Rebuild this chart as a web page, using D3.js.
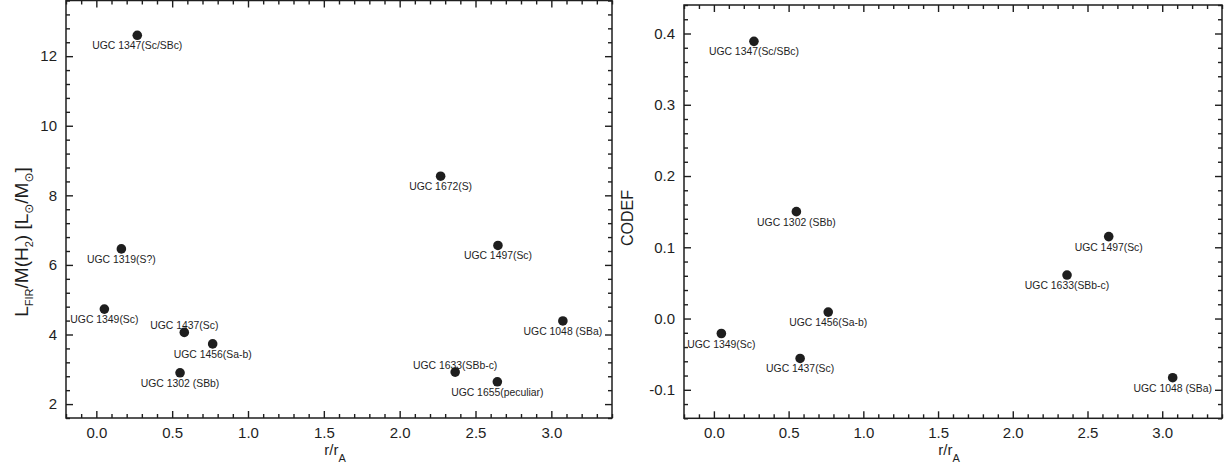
<!DOCTYPE html>
<html>
<head>
<meta charset="utf-8">
<script src="https://cdn.jsdelivr.net/npm/d3@7"></script>
<style>
  body { margin: 0; background: #fff; }
  svg { display: block; font-family: "Liberation Sans", Arial, sans-serif; }
</style>
</head>
<body>
<svg id="chart"></svg>
<script>
// left panel: L_FIR / M(H2) against r/rA
const leftNames = ["UGC 1347(Sc/SBc)", "UGC 1672(S)", "UGC 1319(S?)", "UGC 1349(Sc)", "UGC 1437(Sc)",
    "UGC 1456(Sa-b)", "UGC 1302 (SBb)", "UGC 1497(Sc)", "UGC 1048 (SBa)", "UGC 1633(SBb-c)", "UGC 1655(peculiar)"];
const leftR = [0.27, 2.27, 0.165, 0.053, 0.58, 0.767, 0.552, 2.648, 3.076, 2.366, 2.644];
const leftLfir = [12.6, 8.55, 6.46, 4.73, 4.06, 3.73, 2.9, 6.56, 4.39, 2.92, 2.64];
const leftAbove = ["UGC 1437(Sc)", "UGC 1633(SBb-c)"];

// right panel: CODEF against r/rA
const rightNames = ["UGC 1347(Sc/SBc)", "UGC 1302 (SBb)", "UGC 1349(Sc)", "UGC 1456(Sa-b)", "UGC 1437(Sc)",
    "UGC 1497(Sc)", "UGC 1633(SBb-c)", "UGC 1048 (SBa)"];
const rightR = [0.268, 0.552, 0.05, 0.765, 0.577, 2.642, 2.363, 3.07];
const rightCodef = [0.389, 0.150, -0.021, 0.009, -0.056, 0.115, 0.061, -0.083];

const xTicks = [0, 0.5, 1, 1.5, 2, 2.5, 3];
const leftYTicks = [2, 4, 6, 8, 10, 12];
const rightYTicks = [-0.1, 0, 0.1, 0.2, 0.3, 0.4];

const width = 1225, height = 472;
const ink = "#1e1e1e";

const svg = d3.select("#chart")
    .attr("width", width)
    .attr("height", height);

const range = (a, b, step) => d3.range(Math.round((b - a) / step) + 1).map(i => +(a + i * step).toFixed(4));

function panel(opts) {
    const x = d3.scaleLinear().domain([-0.2, 3.4]).range([opts.left, opts.right]);
    const y = d3.scaleLinear().domain(opts.yDomain).range([opts.bottom, opts.top]);
    const g = svg.append("g");

    const xMinor = range(-0.2, 3.4, 0.1).filter(v => !opts.xTicks.some(t => Math.abs(t - v) < 1e-6));
    const yMinor = range(opts.yDomain[0], opts.yDomain[1], opts.yMinorStep)
        .filter(v => !opts.yTicks.some(t => Math.abs(t - v) < 1e-6));

    const styleAxis = sel => {
        sel.select(".domain").remove();
        sel.selectAll("line").attr("stroke", ink).attr("stroke-width", 1.4);
        sel.selectAll("text").attr("fill", ink).attr("font-size", 15)
            .attr("font-family", "'Liberation Sans', Arial, sans-serif");
    };

    // major + minor ticks on all four sides, pointing inward
    g.append("g").attr("transform", `translate(0,${opts.bottom})`)
        .call(d3.axisBottom(x).tickValues(opts.xTicks).tickSize(-7).tickPadding(9).tickFormat(d3.format(".1f")))
        .call(styleAxis);
    g.append("g").attr("transform", `translate(0,${opts.bottom})`)
        .call(d3.axisBottom(x).tickValues(xMinor).tickSize(-4).tickFormat(""))
        .call(styleAxis);
    g.append("g").attr("transform", `translate(0,${opts.top})`)
        .call(d3.axisTop(x).tickValues(opts.xTicks).tickSize(-7).tickFormat(""))
        .call(styleAxis);
    g.append("g").attr("transform", `translate(0,${opts.top})`)
        .call(d3.axisTop(x).tickValues(xMinor).tickSize(-4).tickFormat(""))
        .call(styleAxis);

    g.append("g").attr("transform", `translate(${opts.left},0)`)
        .call(d3.axisLeft(y).tickValues(opts.yTicks).tickSize(-7).tickPadding(9)
            .tickFormat(d => opts.yFormat(d).replace("\u2212", "-")))
        .call(styleAxis);
    g.append("g").attr("transform", `translate(${opts.left},0)`)
        .call(d3.axisLeft(y).tickValues(yMinor).tickSize(-4).tickFormat(""))
        .call(styleAxis);
    g.append("g").attr("transform", `translate(${opts.right},0)`)
        .call(d3.axisRight(y).tickValues(opts.yTicks).tickSize(-7).tickFormat(""))
        .call(styleAxis);
    g.append("g").attr("transform", `translate(${opts.right},0)`)
        .call(d3.axisRight(y).tickValues(yMinor).tickSize(-4).tickFormat(""))
        .call(styleAxis);

    // frame
    g.append("rect")
        .attr("x", opts.left).attr("y", opts.top)
        .attr("width", opts.right - opts.left).attr("height", opts.bottom - opts.top)
        .attr("fill", "none").attr("stroke", ink).attr("stroke-width", 1.5);

    const pts = opts.names.map((n, i) => ({ name: n, r: opts.r[i], v: opts.v[i] }));

    g.append("g").selectAll("circle")
        .data(pts)
        .enter()
        .append("circle")
        .attr("cx", d => x(d.r))
        .attr("cy", d => y(d.v))
        .attr("r", 4.8)
        .attr("fill", ink);

    g.append("g").selectAll("text")
        .data(pts)
        .enter()
        .append("text")
        .attr("x", d => x(d.r))
        .attr("y", d => y(d.v) + (opts.above.includes(d.name) ? -3.5 : 14))
        .attr("text-anchor", "middle")
        .attr("font-size", 10.4)
        .attr("fill", ink)
        .text(d => d.name);

    // x title r/rA
    const xt = g.append("text")
        .attr("x", (opts.left + opts.right) / 2 - 4)
        .attr("y", 455)
        .attr("text-anchor", "middle")
        .attr("font-size", 15)
        .attr("fill", ink);
    xt.append("tspan").text("r/r");
    xt.append("tspan").attr("font-size", 11).attr("dy", 7).text("A");

    return g;
}

const gl = panel({
    left: 66, right: 612, top: 0.5, bottom: 418,
    yDomain: [1.6, 13.6], yTicks: leftYTicks, yMinorStep: 0.4, yFormat: d3.format("d"),
    xTicks, names: leftNames, r: leftR, v: leftLfir, above: leftAbove
});

const gr = panel({
    left: 684, right: 1222, top: 5, bottom: 418.3,
    yDomain: [-0.14, 0.44], yTicks: rightYTicks, yMinorStep: 0.02, yFormat: d3.format(".1f"),
    xTicks, names: rightNames, r: rightR, v: rightCodef, above: []
});

// y titles
const yl = svg.append("text")
    .attr("transform", "translate(28,242) rotate(-90)")
    .attr("text-anchor", "middle")
    .attr("font-size", 19)
    .attr("fill", ink);
yl.append("tspan").text("L");
yl.append("tspan").attr("font-size", 11).attr("dy", 5).text("FIR");
yl.append("tspan").attr("dy", -5).text("/M(H");
yl.append("tspan").attr("font-size", 11).attr("dy", 5).text("2");
yl.append("tspan").attr("dy", -5).text(") [L");
yl.append("tspan").attr("font-size", 12).attr("dy", 5).attr("font-family", "'DejaVu Sans', sans-serif").text("\u2299");
yl.append("tspan").attr("dy", -5).text("/M");
yl.append("tspan").attr("font-size", 12).attr("dy", 5).attr("font-family", "'DejaVu Sans', sans-serif").text("\u2299");
yl.append("tspan").attr("dy", -5).text("]");

svg.append("text")
    .attr("transform", "translate(633,218) rotate(-90)")
    .attr("text-anchor", "middle")
    .attr("font-size", 16)
    .attr("fill", ink)
    .text("CODEF");
</script>
</body>
</html>
